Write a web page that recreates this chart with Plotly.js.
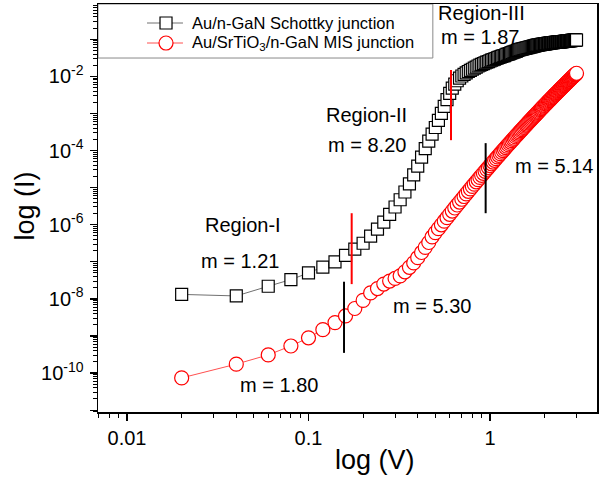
<!DOCTYPE html>
<html>
<head>
<meta charset="utf-8">
<script src="https://cdn.plot.ly/plotly-3.0.1.min.js"></script>
<style>
  html, body { margin: 0; padding: 0; background: #ffffff; }
  #chart { width: 599px; height: 479px; }
</style>
</head>
<body>
<div id="chart"></div>
<script>
// Bias voltage (V), 0.02 V steps
const voltage = [
  0.02,0.04,0.06,0.08,0.10,0.12,0.14,0.16,0.18,0.20,
  0.22,0.24,0.26,0.28,0.30,0.32,0.34,0.36,0.38,0.40,
  0.42,0.44,0.46,0.48,0.50,0.52,0.54,0.56,0.58,0.60,
  0.62,0.64,0.66,0.68,0.70,0.72,0.74,0.76,0.78,0.80,
  0.82,0.84,0.86,0.88,0.90,0.92,0.94,0.96,0.98,1.00,
  1.02,1.04,1.06,1.08,1.10,1.12,1.14,1.16,1.18,1.20,
  1.22,1.24,1.26,1.28,1.30,1.32,1.34,1.36,1.38,1.40,
  1.42,1.44,1.46,1.48,1.50,1.52,1.54,1.56,1.58,1.60,
  1.62,1.64,1.66,1.68,1.70,1.72,1.74,1.76,1.78,1.80,
  1.82,1.84,1.86,1.88,1.90,1.92,1.94,1.96,1.98,2.00,
  2.02,2.04,2.06,2.08,2.10,2.12,2.14,2.16,2.18,2.20,
  2.22,2.24,2.26,2.28,2.30,2.32,2.34,2.36,2.38,2.40,
  2.42,2.44,2.46,2.48,2.50,2.52,2.54,2.56,2.58,2.60,
  2.62,2.64,2.66,2.68,2.70,2.72,2.74,2.76,2.78,2.80,
  2.82,2.84,2.86,2.88,2.90,2.92,2.94,2.96,2.98,3.00
];

// Current (A) of the Au/n-GaN Schottky junction
const currentSchottky = [
  1.32e-8,1.20e-8,2.19e-8,3.31e-8,5.0e-8,7.2e-8,1.0e-7,1.48e-7,2.19e-7,3.16e-7,
  4.9e-7,7.6e-7,1.17e-6,1.9e-6,3.0e-6,4.7e-6,7.6e-6,1.26e-5,2.19e-5,3.8e-5,
  6.6e-5,1.12e-4,1.78e-4,2.75e-4,4.17e-4,6.46e-4,1.0e-3,1.55e-3,2.34e-3,3.47e-3,
  4.79e-3,6.17e-3,7.59e-3,8.91e-3,1.02e-2,1.135e-2,1.245e-2,1.35e-2,1.45e-2,1.55e-2,
  1.66e-2,1.78e-2,1.9e-2,2.0e-2,2.1e-2,2.2e-2,2.3e-2,2.4e-2,2.5e-2,2.6e-2,
  2.72e-2,2.82e-2,2.92e-2,3.02e-2,3.13e-2,3.24e-2,3.35e-2,3.47e-2,3.55e-2,3.63e-2,
  3.76e-2,3.89e-2,3.98e-2,4.07e-2,4.22e-2,4.37e-2,4.47e-2,4.57e-2,4.68e-2,4.79e-2,
  5.01e-2,5.13e-2,5.25e-2,5.37e-2,5.43e-2,5.5e-2,5.62e-2,5.69e-2,5.75e-2,5.89e-2,
  5.96e-2,6.03e-2,6.17e-2,6.24e-2,6.31e-2,6.46e-2,6.53e-2,6.61e-2,6.76e-2,6.84e-2,
  6.92e-2,6.98e-2,7.05e-2,7.11e-2,7.16e-2,7.23e-2,7.28e-2,7.35e-2,7.41e-2,7.46e-2,
  7.52e-2,7.59e-2,7.64e-2,7.69e-2,7.76e-2,7.82e-2,7.87e-2,7.93e-2,7.98e-2,8.04e-2,
  8.09e-2,8.13e-2,8.17e-2,8.20e-2,8.24e-2,8.28e-2,8.32e-2,8.36e-2,8.38e-2,8.41e-2,
  8.45e-2,8.49e-2,8.53e-2,8.57e-2,8.61e-2,8.65e-2,8.69e-2,8.73e-2,8.77e-2,8.81e-2,
  8.85e-2,8.89e-2,8.93e-2,8.97e-2,9.02e-2,9.06e-2,9.1e-2,9.14e-2,9.18e-2,9.23e-2,
  9.27e-2,9.31e-2,9.33e-2,9.38e-2,9.42e-2,9.44e-2,9.48e-2,9.51e-2,9.53e-2,9.55e-2
];

// Current (A) of the Au/SrTiO3/n-GaN MIS junction
const currentMIS = [
  7.4e-11,1.74e-10,3.09e-10,5.37e-10,8.9e-10,1.48e-9,2.29e-9,3.47e-9,5.5e-9,9.1e-9,
  1.45e-8,1.9e-8,2.51e-8,3.02e-8,3.55e-8,4.17e-8,5.37e-8,7.08e-8,9.33e-8,1.29e-7,
  1.78e-7,2.45e-7,3.31e-7,4.68e-7,6.12e-7,7.83e-7,9.93e-7,1.245e-6,1.545e-6,1.905e-6,
  2.33e-6,2.82e-6,3.40e-6,4.08e-6,4.85e-6,5.75e-6,6.78e-6,7.94e-6,9.25e-6,1.074e-5,
  1.24e-5,1.43e-5,1.64e-5,1.88e-5,2.14e-5,2.43e-5,2.75e-5,3.10e-5,3.48e-5,3.92e-5,
  4.39e-5,4.89e-5,5.45e-5,6.05e-5,6.71e-5,7.43e-5,8.20e-5,9.04e-5,9.95e-5,1.09e-4,
  1.20e-4,1.31e-4,1.43e-4,1.56e-4,1.69e-4,1.84e-4,2.00e-4,2.16e-4,2.35e-4,2.54e-4,
  2.74e-4,2.95e-4,3.18e-4,3.42e-4,3.67e-4,3.94e-4,4.23e-4,4.53e-4,4.85e-4,5.18e-4,
  5.53e-4,5.90e-4,6.28e-4,6.70e-4,7.11e-4,7.57e-4,8.04e-4,8.55e-4,9.06e-4,9.59e-4,
  1.02e-3,1.07e-3,1.135e-3,1.20e-3,1.27e-3,1.34e-3,1.41e-3,1.49e-3,1.57e-3,1.65e-3,
  1.74e-3,1.82e-3,1.92e-3,2.01e-3,2.11e-3,2.21e-3,2.32e-3,2.44e-3,2.55e-3,2.67e-3,
  2.80e-3,2.92e-3,3.05e-3,3.19e-3,3.33e-3,3.48e-3,3.63e-3,3.78e-3,3.95e-3,4.12e-3,
  4.29e-3,4.46e-3,4.65e-3,4.84e-3,5.02e-3,5.24e-3,5.45e-3,5.64e-3,5.86e-3,6.10e-3,
  6.32e-3,6.56e-3,6.81e-3,7.05e-3,7.33e-3,7.59e-3,7.85e-3,8.13e-3,8.41e-3,8.73e-3,
  9.02e-3,9.33e-3,9.66e-3,9.98e-3,1.03e-2,1.07e-2,1.10e-2,1.135e-2,1.17e-2,1.21e-2
];

// Region boundary markers (vertical segments): voltage and current extent
const schottkyBoundV = [[0.173, 0.173], [0.61, 0.61]];
const schottkyBoundI = [[2.04e-6, 2.5e-8], [1.48e-2, 1.9e-4]];
const misBoundV = [[0.157, 0.157], [0.947, 0.947]];
const misBoundI = [[2.9e-8, 3.5e-10], [1.58e-4, 2.04e-6]];

// Region names and slope labels
const labelText = ['Region-I', 'm = 1.21', 'Region-II', 'm = 8.20', 'Region-III',
                   'm = 1.87', 'm = 5.14', 'm = 5.30', 'm = 1.80'];
const labelV = [0.0433, 0.042, 0.21, 0.21, 0.90, 0.88, 2.25, 0.482, 0.0688];
const labelI = [9.8e-7, 1.05e-7, 8.9e-4, 1.41e-4, 0.495, 0.116, 3.9e-5, 6.5e-9, 4.9e-11];

// Series names (legend)
const seriesNames = ['Au/n-GaN Schottky junction', 'Au/SrTiO<sub>3</sub>/n-GaN MIS junction'];

// Axis tick labels
const xTickVals = [0.01, 0.1, 1];
const xTickText = ['0.01', '0.1', '1'];
const yLabelExp = [-10, -8, -6, -4, -2];
const yLabelText = ['10<sup>-10</sup>', '10<sup>-8</sup>', '10<sup>-6</sup>',
                    '10<sup>-4</sup>', '10<sup>-2</sup>'];
const yUnlabelledExp = [-11, -9, -7, -5, -3, -1];

const FONT = '"Liberation Sans", Arial, sans-serif';
const BLACK_LINE = '#707070', RED_LINE = '#ff5050';

// minor ticks at 2..9 of every decade
function minorTicks(e0, e1) {
  const out = [];
  for (let e = e0; e <= e1; e++) {
    for (let k = 2; k <= 9; k++) out.push(k * Math.pow(10, e));
  }
  return out;
}

const traces = [
  {
    x: voltage, y: currentSchottky, name: seriesNames[0],
    type: 'scatter', mode: 'lines+markers', showlegend: false,
    line: { color: BLACK_LINE, width: 1 },
    marker: { symbol: 'square', size: 12, color: '#ffffff', line: { color: '#000000', width: 1.2 } }
  },
  {
    x: voltage, y: currentMIS, name: seriesNames[1],
    type: 'scatter', mode: 'lines+markers', showlegend: false,
    line: { color: RED_LINE, width: 1 },
    marker: { symbol: 'circle', size: 14, color: '#ffffff', line: { color: '#ff0000', width: 1.2 } }
  }
];

schottkyBoundV.forEach((v, i) => traces.push({
  x: v, y: schottkyBoundI[i], type: 'scatter', mode: 'lines', showlegend: false,
  yaxis: 'y2', hoverinfo: 'skip', line: { color: '#ff0000', width: 2 }
}));
misBoundV.forEach((v, i) => traces.push({
  x: v, y: misBoundI[i], type: 'scatter', mode: 'lines', showlegend: false,
  yaxis: 'y2', hoverinfo: 'skip', line: { color: '#000000', width: 2 }
}));

const annotations = labelText.map((t, i) => ({
  text: t, x: Math.log10(labelV[i]), y: Math.log10(labelI[i]),
  xref: 'x', yref: 'y', showarrow: false, xanchor: 'center', yanchor: 'middle',
  font: { family: FONT, size: 20, color: '#000000' }
}));

// axis titles
annotations.push({
  text: 'log (V)', xref: 'paper', yref: 'paper', x: 0.555, y: -0.118,
  xanchor: 'center', yanchor: 'middle',
  showarrow: false, font: { family: FONT, size: 27, color: '#000000' }
});
annotations.push({
  text: 'log (I)', xref: 'paper', yref: 'paper', x: -0.147, y: 0.505,
  xanchor: 'center', yanchor: 'middle',
  textangle: -90, showarrow: false, font: { family: FONT, size: 27, color: '#000000' }
});

// legend: boxed key in the upper-left corner of the plot
const legendRowY = [0.9534, 0.9044];
const legendSymX = 0.1363, legendLineX = [0.0982, 0.1703], legendTextX = 0.1844;
seriesNames.forEach((name, i) => annotations.push({
  text: name, xref: 'paper', yref: 'paper', x: legendTextX, y: legendRowY[i],
  xanchor: 'left', yanchor: 'middle', showarrow: false,
  font: { family: FONT, size: 16.5, color: '#000000' }
}));

const shapes = [
  { type: 'rect', xref: 'paper', yref: 'paper', x0: 0, x1: 0.671, y0: 0.8676, y1: 1,
    line: { color: '#8a8a8a', width: 1 }, fillcolor: 'rgba(0,0,0,0)', layer: 'below' },
  { type: 'line', xref: 'paper', yref: 'paper', x0: legendLineX[0], x1: legendLineX[1],
    y0: legendRowY[0], y1: legendRowY[0], line: { color: BLACK_LINE, width: 1 } },
  { type: 'rect', xref: 'paper', yref: 'paper', xsizemode: 'pixel', ysizemode: 'pixel',
    xanchor: legendSymX, yanchor: legendRowY[0], x0: -6, x1: 6, y0: -6, y1: 6,
    line: { color: '#000000', width: 1.2 }, fillcolor: '#ffffff' },
  { type: 'line', xref: 'paper', yref: 'paper', x0: legendLineX[0], x1: legendLineX[1],
    y0: legendRowY[1], y1: legendRowY[1], line: { color: RED_LINE, width: 1 } },
  { type: 'circle', xref: 'paper', yref: 'paper', xsizemode: 'pixel', ysizemode: 'pixel',
    xanchor: legendSymX, yanchor: legendRowY[1], x0: -7, x1: 7, y0: -7, y1: 7,
    line: { color: '#ff0000', width: 1.2 }, fillcolor: '#ffffff' }
];

const yRange = [-11.05, -0.05];
const tickStyle = {
  ticks: 'outside', ticklen: 7, tickwidth: 1.3, tickcolor: '#000000'
};

const layout = {
  width: 599, height: 479,
  margin: { l: 98, r: 2, t: 4, b: 67 },
  paper_bgcolor: '#ffffff', plot_bgcolor: '#ffffff',
  font: { family: FONT, color: '#000000' },
  showlegend: false,
  xaxis: Object.assign({
    type: 'log', range: [-2.16, 0.59],
    showline: true, linecolor: '#000000', linewidth: 1.5, mirror: true,
    showgrid: false, zeroline: false,
    tickmode: 'array', tickvals: xTickVals, ticktext: xTickText,
    tickfont: { family: FONT, size: 20, color: '#000000' },
    ticklabelstandoff: 0,
    minor: { tickmode: 'array', tickvals: minorTicks(-3, 0), ticks: 'outside',
             ticklen: 4, tickwidth: 1, tickcolor: '#000000', showgrid: false }
  }, tickStyle),
  yaxis: Object.assign({
    type: 'log', range: yRange,
    showline: true, linecolor: '#000000', linewidth: 1.5, mirror: true,
    showgrid: false, zeroline: false,
    tickmode: 'array', tickvals: yLabelExp.map(e => Math.pow(10, e)), ticktext: yLabelText,
    tickfont: { family: FONT, size: 20, color: '#000000' },
    ticklabelstandoff: 2,
    minor: { tickmode: 'array', tickvals: minorTicks(-12, 0), ticks: 'outside',
             ticklen: 4, tickwidth: 1, tickcolor: '#000000', showgrid: false }
  }, tickStyle),
  // unlabelled decade ticks between the labelled ones
  yaxis2: Object.assign({
    type: 'log', range: yRange, overlaying: 'y', side: 'left', anchor: 'x',
    showline: false, showgrid: false, zeroline: false, showticklabels: false,
    tickmode: 'array', tickvals: yUnlabelledExp.map(e => Math.pow(10, e))
  }, tickStyle),
  shapes: shapes,
  annotations: annotations
};

Plotly.newPlot('chart', traces, layout, { displayModeBar: false, staticPlot: true });
</script>
</body>
</html>
